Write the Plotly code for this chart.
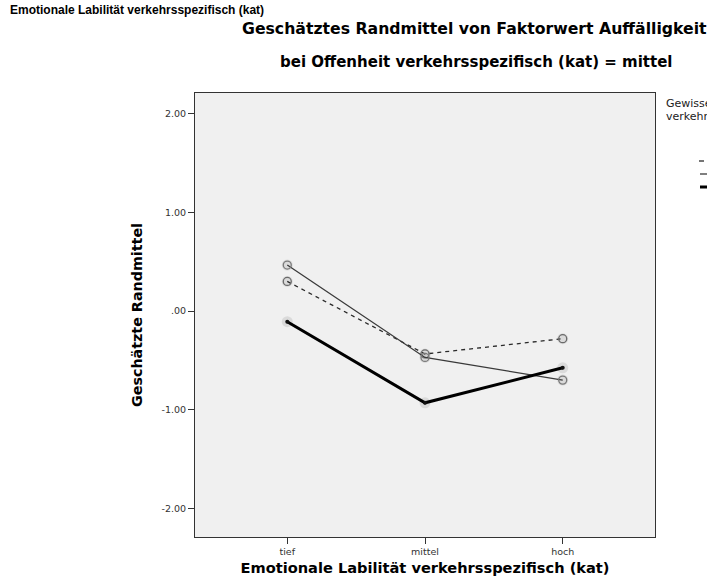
import plotly.graph_objects as go

categories = ["tief", "mittel", "hoch"]
series_names = ["tief", "mittel", "hoch"]
series_dashed = [0.30, -0.435, -0.28]
series_thin = [0.466, -0.47, -0.70]
series_thick = [-0.108, -0.93, -0.575]
ytick_vals = [2, 1, 0, -1, -2]
ytick_text = ["2.00", "1.00", ".00", "-1.00", "-2.00"]

FONT = "Liberation Sans, Arial, sans-serif"
BFONT = "DejaVu Sans, Liberation Sans, sans-serif"
x_idx = list(range(len(categories)))

fig = go.Figure()

# halo layer for all points
for ys in (series_dashed, series_thin, series_thick):
    fig.add_trace(go.Scatter(
        x=x_idx, y=ys, mode="markers", hoverinfo="skip",
        marker=dict(symbol="circle", size=11, color="rgba(200,200,200,0.55)", line=dict(width=0)),
    ))

fig.add_trace(go.Scatter(
    x=x_idx, y=series_dashed, mode="lines+markers", name=series_names[0],
    line=dict(color="#2a2a2a", width=1.3, dash="4px,4px"),
    marker=dict(symbol="circle-open", size=8, color="#6a6a6a", line=dict(width=1.3)),
))
fig.add_trace(go.Scatter(
    x=x_idx, y=series_thin, mode="lines+markers", name=series_names[1],
    line=dict(color="#3a3a3a", width=1.3),
    marker=dict(symbol="circle-open", size=8, color="#7a7a7a", line=dict(width=1.3)),
))
fig.add_trace(go.Scatter(
    x=x_idx, y=series_thick, mode="lines+markers", name=series_names[2],
    line=dict(color="#000000", width=3),
    marker=dict(symbol="circle", size=4, color="#111111"),
))

fig.update_layout(
    width=707, height=586,
    margin=dict(l=195, r=52, t=93, b=49, autoexpand=False),
    paper_bgcolor="white", plot_bgcolor="#f0f0f0",
    showlegend=False,
    font=dict(family=FONT, size=10, color="#333333"),
)
fig.update_xaxes(
    range=[-0.67, 2.67], tickvals=x_idx, ticktext=categories,
    ticks="outside", ticklen=6, tickcolor="#333333", tickwidth=1,
    showgrid=False, zeroline=False, showline=True, mirror=True,
    linecolor="#333333", linewidth=1,
    tickfont=dict(family=BFONT, size=9.5, color="#333333"),
    title=dict(text="<b>Emotionale Labilität verkehrsspezifisch (kat)</b>",
               font=dict(family=BFONT, size=14.6, color="#000000"), standoff=6),
)
fig.update_yaxes(
    range=[-2.29, 2.21], tickvals=ytick_vals, ticktext=ytick_text,
    ticks="outside", ticklen=6, tickcolor="#333333", tickwidth=1,
    showgrid=False, zeroline=False, showline=True, mirror=True,
    linecolor="#333333", linewidth=1,
    tickfont=dict(family=BFONT, size=9.5, color="#333333"),
    title=dict(text="<b>Geschätzte Randmittel</b>",
               font=dict(family=BFONT, size=14.3, color="#000000"), standoff=15),
)

annotations = [
    dict(text="<b>Emotionale Labilität verkehrsspezifisch (kat)</b>", x=8, y=586 - 10,
         font=dict(family=FONT, size=12, color="#000000")),
    dict(text="<b>Geschätztes Randmittel von Faktorwert Auffälligkeit</b>", x=240, y=586 - 28,
         font=dict(family=BFONT, size=15.7, color="#000000")),
    dict(text="<b>bei Offenheit verkehrsspezifisch (kat) = mittel</b>", x=278, y=586 - 62,
         font=dict(family=BFONT, size=15, color="#000000")),
    dict(text="Gewissenhaftigkeit", x=664, y=586 - 103, font=dict(family=BFONT, size=11, color="#222222")),
    dict(text="verkehrsspezifisch (kat)", x=664, y=586 - 116, font=dict(family=BFONT, size=11, color="#222222")),
]
for i, name in enumerate(series_names):
    annotations.append(dict(text=name, x=712, y=586 - (161 + i * 13),
                            font=dict(family=BFONT, size=11, color="#222222")))

fig.update_layout(annotations=[
    dict(a, xref="paper", yref="paper", xanchor="left", yanchor="middle", showarrow=False,
         x=(a["x"] - 195) / 460, y=(a["y"] - 49) / 444)
    for a in annotations
])

# legend samples
leg_styles = [dict(color="#2a2a2a", width=1.3),
              dict(color="#3a3a3a", width=1.3),
              dict(color="#000000", width=3)]
for i, st in enumerate(leg_styles):
    yp = 586 - (161 + i * 13)
    x0 = 700 if i > 0 else 699
    x1 = 710 if i > 0 else 704
    fig.add_shape(type="line", xref="paper", yref="paper",
                  x0=(x0 - 195) / 460, x1=(x1 - 195) / 460,
                  y0=(yp - 49) / 444, y1=(yp - 49) / 444,
                  line=dict(color=st["color"], width=st["width"]))

fig.write_html("out.html")
